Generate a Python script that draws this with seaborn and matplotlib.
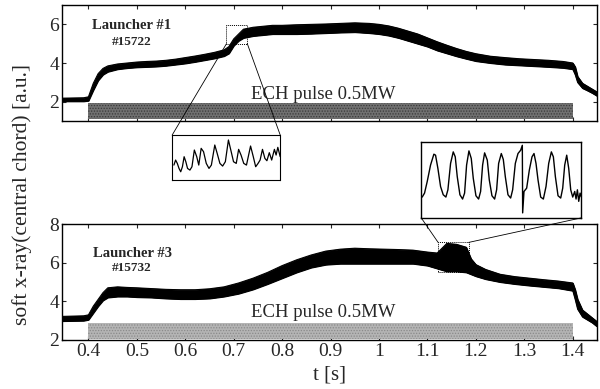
import numpy as np
import pandas as pd
import matplotlib
matplotlib.use("Agg")
import matplotlib.pyplot as plt
import seaborn as sns
from matplotlib.patches import Rectangle, ConnectionPatch

# ---------------- data ----------------
# Launcher #1, shot #15722: time and lower/upper envelope of the noisy trace
t1 = [0.345, 0.39, 0.40, 0.41, 0.42, 0.43, 0.44, 0.46, 0.48, 0.50, 0.52, 0.54, 0.56, 0.58,
      0.60, 0.62, 0.64, 0.66, 0.68, 0.69, 0.70, 0.71, 0.72, 0.74, 0.76, 0.78, 0.80, 0.83,
      0.86, 0.89, 0.92, 0.95, 0.98, 1.00, 1.02, 1.04, 1.06, 1.08, 1.10, 1.12, 1.14, 1.16,
      1.18, 1.20, 1.23, 1.26, 1.29, 1.32, 1.35, 1.38, 1.40, 1.405, 1.41, 1.42, 1.43, 1.44, 1.45]
lo1 = [2.02, 2.02, 2.05, 2.60, 3.10, 3.40, 3.55, 3.68, 3.74, 3.78, 3.80, 3.82, 3.86, 3.92,
       3.98, 4.06, 4.15, 4.24, 4.36, 4.50, 4.90, 5.15, 5.30, 5.40, 5.45, 5.50, 5.50, 5.50,
       5.52, 5.55, 5.58, 5.60, 5.55, 5.50, 5.42, 5.30, 5.15, 5.00, 4.85, 4.65, 4.50, 4.35,
       4.22, 4.10, 4.00, 3.92, 3.88, 3.84, 3.80, 3.75, 3.68, 3.40, 3.00, 2.70, 2.58, 2.45, 2.30]
hi1 = [2.18, 2.20, 2.25, 2.95, 3.45, 3.72, 3.85, 3.95, 4.00, 4.05, 4.08, 4.10, 4.14, 4.20,
       4.28, 4.36, 4.45, 4.55, 4.68, 4.85, 5.25, 5.50, 5.75, 5.85, 5.90, 5.95, 5.95, 5.98,
       6.00, 6.02, 6.05, 6.08, 6.05, 6.00, 5.92, 5.80, 5.65, 5.50, 5.30, 5.10, 4.92, 4.75,
       4.60, 4.48, 4.35, 4.28, 4.22, 4.18, 4.14, 4.08, 4.00, 3.80, 3.30, 2.95, 2.80, 2.65, 2.50]

# Launcher #3, shot #15732
t3 = [0.345, 0.39, 0.40, 0.41, 0.42, 0.43, 0.44, 0.46, 0.48, 0.50, 0.53, 0.56, 0.59, 0.62,
      0.65, 0.68, 0.71, 0.74, 0.77, 0.80, 0.83, 0.86, 0.89, 0.92, 0.95, 0.98, 1.01, 1.04,
      1.07, 1.10, 1.12, 1.14, 1.16, 1.18, 1.19, 1.20, 1.22, 1.25, 1.28, 1.31, 1.34, 1.37,
      1.40, 1.405, 1.41, 1.42, 1.43, 1.44, 1.45]
lo3 = [2.98, 3.00, 3.05, 3.40, 3.75, 4.05, 4.20, 4.25, 4.25, 4.22, 4.20, 4.15, 4.12, 4.12,
       4.15, 4.25, 4.40, 4.62, 4.90, 5.20, 5.50, 5.75, 5.90, 5.95, 5.95, 5.95, 5.95, 5.95,
       5.95, 5.85, 5.70, 5.55, 5.55, 5.50, 5.40, 5.30, 5.15, 5.00, 4.90, 4.82, 4.75, 4.68,
       4.55, 4.10, 3.60, 3.20, 3.05, 2.90, 2.70]
hi3 = [3.22, 3.25, 3.30, 3.75, 4.10, 4.45, 4.70, 4.75, 4.72, 4.70, 4.66, 4.62, 4.60, 4.60,
       4.65, 4.75, 4.95, 5.20, 5.50, 5.85, 6.15, 6.40, 6.60, 6.70, 6.75, 6.72, 6.70, 6.68,
       6.65, 6.55, 6.50, 7.00, 6.95, 6.80, 6.20, 5.90, 5.65, 5.40, 5.28, 5.20, 5.12, 5.05,
       4.95, 4.60, 4.10, 3.55, 3.35, 3.15, 2.95]

# ECH pulse window [s]
ech_t = [0.40, 1.40]
ech_label = "ECH pulse 0.5MW"

# zoomed windows (t range, signal range)
zoom1_t = [0.685, 0.728]
zoom1_y = [5.0, 5.95]
zoom3_t = [1.122, 1.185]
zoom3_y = [5.5, 7.05]

# inset traces (arbitrary units; larger = lower)
ins1_x = [45, 50, 55, 60, 65, 70, 75, 80, 85, 92, 98, 105, 112, 118, 125, 132, 140, 148, 155,
          165, 172, 180, 188, 196, 205, 212, 220, 228, 235, 242, 250, 258, 270, 278, 285, 292,
          298, 305, 312, 318, 325, 332, 340, 345, 350, 357]
ins1_y = [165, 150, 160, 175, 185, 170, 140, 155, 175, 180, 170, 120, 140, 165, 115, 125, 160,
          175, 165, 105, 130, 160, 168, 155, 90, 120, 155, 160, 118, 135, 160, 165, 108, 140,
          170, 160, 150, 118, 145, 152, 128, 150, 118, 135, 112, 140]
ins3_x = [785, 792, 800, 810, 820, 825, 832, 840, 848, 856, 862, 870, 878, 884, 890, 898, 906,
          912, 918, 925, 932, 938, 946, 954, 960, 966, 972, 980, 986, 994, 1002, 1008, 1014,
          1022, 1028, 1034, 1042, 1050, 1056, 1064, 1072, 1080, 1085, 1086, 1090, 1098, 1106,
          1114, 1120, 1126, 1132, 1140, 1148, 1156, 1164, 1172, 1178, 1184, 1192, 1200, 1206,
          1212, 1218, 1224, 1230, 1236, 1242, 1246, 1250, 1254, 1258, 1262]
ins3_y = [262, 250, 215, 165, 132, 135, 175, 230, 255, 262, 240, 160, 125, 140, 200, 255, 268,
          250, 165, 122, 145, 205, 258, 268, 245, 165, 128, 150, 210, 258, 268, 240, 160, 130,
          148, 200, 255, 265, 240, 160, 130, 120, 105, 310, 245, 235, 180, 140, 130, 160, 210,
          262, 268, 230, 160, 125, 140, 200, 258, 265, 235, 165, 135, 175, 240, 262, 245, 268,
          240, 275, 250, 262]

x_ticks = [0.4, 0.5, 0.6, 0.7, 0.8, 0.9, 1.0, 1.1, 1.2, 1.3, 1.4]
x_ticklabels = ["0.4", "0.5", "0.6", "0.7", "0.8", "0.9", "1", "1.1", "1.2", "1.3", "1.4"]
y_ticks_top = [2, 4, 6]
y_ticks_bot = [2, 4, 6, 8]

# ---------------- style ----------------
sns.set_theme(style="ticks")
plt.rcParams["font.family"] = ["Liberation Serif", "DejaVu Serif"]
plt.rcParams["xtick.direction"] = "in"
plt.rcParams["ytick.direction"] = "in"
plt.rcParams["hatch.linewidth"] = 0.6

fig = plt.figure(figsize=(6.0, 3.89), dpi=100)
ax1 = fig.add_axes([0.103, 0.689, 0.892, 0.298])
ax3 = fig.add_axes([0.103, 0.126, 0.892, 0.298])

panels = [
    (ax1, t1, lo1, hi1, (1.0, 7.0), y_ticks_top, "#707070", "#3a3a3a", (1.1, 1.95), 2.35,
     "Launcher #1", "#15722", (5.95, 5.1), zoom1_t, zoom1_y),
    (ax3, t3, lo3, hi3, (2.0, 8.0), y_ticks_bot, "#b4b4b4", "#8a8a8a", (2.05, 2.9), 3.4,
     "Launcher #3", "#15732", (6.5, 5.75), zoom3_t, zoom3_y),
]

for (ax, t, lo, hi, ylim, yt, barc, hatchc, barY, txty, lab, shot, labY, zt, zy) in panels:
    df = pd.DataFrame({"t": t, "lo": lo, "hi": hi})
    ax.fill_between(df["t"], df["lo"], df["hi"], color="black", lw=0.8, zorder=3)
    sns.lineplot(x=df["t"], y=df["lo"], ax=ax, color="black", lw=0.8, zorder=3)
    sns.lineplot(x=df["t"], y=df["hi"], ax=ax, color="black", lw=0.8, zorder=3)
    ax.add_patch(Rectangle((ech_t[0], barY[0]), ech_t[1] - ech_t[0], barY[1] - barY[0],
                           facecolor=barc, edgecolor=hatchc, lw=0, hatch="......", zorder=2))
    ax.text(0.885, txty, ech_label, ha="center", va="center", fontsize=13.5, zorder=4)
    ax.text(0.49, labY[0], lab, ha="center", va="center", fontsize=10.5, fontweight="bold")
    ax.text(0.49, labY[1], shot, ha="center", va="center", fontsize=9.5, fontweight="bold")
    ax.add_patch(Rectangle((zt[0], zy[0]), zt[1] - zt[0], zy[1] - zy[0], fill=False,
                           edgecolor="black", lw=0.7, ls=(0, (1, 1)), zorder=5))
    ax.set_xlim(0.345, 1.45)
    ax.set_ylim(*ylim)
    ax.set_yticks(yt)
    ax.set_xticks(x_ticks)
    ax.set_xlabel("")
    ax.set_ylabel("")
    ax.tick_params(top=True, right=True, length=3, width=0.8, labelsize=14, pad=2)
    for s in ax.spines.values():
        s.set_linewidth(1.0)
        s.set_color("black")

ax1.set_xticklabels([])
ax3.set_xticklabels(x_ticklabels)
ax3.set_xlabel("t [s]", fontsize=15, labelpad=4)

fig.text(0.037, 0.50, "soft x-ray(central chord) [a.u.]", rotation=90, ha="center",
         va="center", fontsize=15.5)

# insets
in1 = fig.add_axes([0.287, 0.537, 0.180, 0.116])
sns.lineplot(x=ins1_x, y=ins1_y, ax=in1, color="black", lw=0.9, sort=False)
in1.set_xlim(40, 357)
in1.set_ylim(210, 75)
for s in in1.spines.values():
    s.set_linestyle((0, (1, 1)))
    s.set_linewidth(0.8)
    s.set_color("black")

in3 = fig.add_axes([0.702, 0.440, 0.267, 0.195])
sns.lineplot(x=ins3_x, y=ins3_y, ax=in3, color="black", lw=1.0, sort=False)
in3.set_xlim(782, 1262)
in3.set_ylim(325, 95)
for s in in3.spines.values():
    s.set_linewidth(1.0)
    s.set_color("black")

for a in (in1, in3):
    a.set_xticks([])
    a.set_yticks([])
    a.set_xlabel("")
    a.set_ylabel("")

# connector lines
for xa, xb in [((zoom1_t[0], zoom1_y[0]), (0, 1)), ((zoom1_t[1], zoom1_y[0]), (1, 1))]:
    fig.add_artist(ConnectionPatch(xyA=xa, coordsA=ax1.transData, xyB=xb,
                                   coordsB=in1.transAxes, color="black", lw=0.6))
for xa, xb in [((zoom3_t[0], zoom3_y[1]), (0, 0)), ((zoom3_t[1], zoom3_y[1]), (1, 0))]:
    fig.add_artist(ConnectionPatch(xyA=xa, coordsA=ax3.transData, xyB=xb,
                                   coordsB=in3.transAxes, color="black", lw=0.6))

fig.savefig("out.png", dpi=100)
